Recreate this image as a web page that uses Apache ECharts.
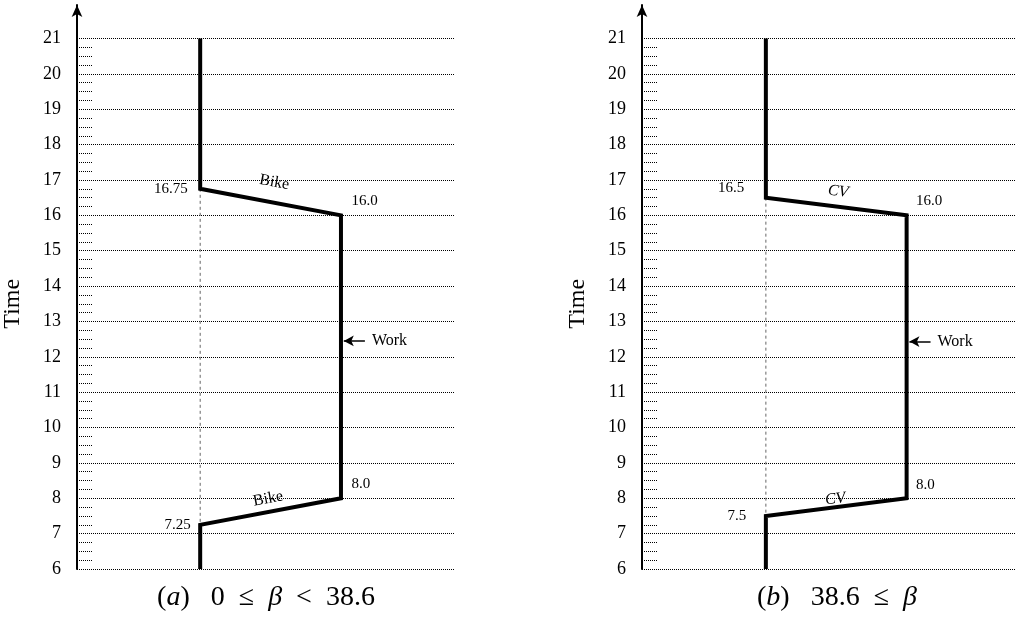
<!DOCTYPE html>
<html><head><meta charset="utf-8">
<script src="https://cdn.jsdelivr.net/npm/echarts@6/dist/echarts.min.js"></script>
<style>html,body{margin:0;padding:0;background:#fff}#c{width:1016px;height:617px}</style>
</head><body><div id="c"></div>
<script>
// ---- data ----
const places = ['Home', 'Work'];             // x positions: 0 = Home, 1 = Work
const tripAPlace = [0, 0, 1, 1, 0, 0];
const tripATime  = [21, 16.75, 16.0, 8.0, 7.25, 6];
const tripBPlace = [0, 0, 1, 1, 0, 0];
const tripBTime  = [21, 16.5, 16.0, 8.0, 7.5, 6];
const modeA = ['Bike', 'Bike'];              // evening trip, morning trip
const modeB = ['CV', 'CV'];
const workMarkTime = [12.45, 12.43];
const yTicks = [6, 21, 1];                   // min, max, step
const captionA = '({it|a})\u2002 0\u2002≤\u2002{it|β}\u2002<\u200238.6';
const captionB = '({it|b})\u2002 38.6\u2002≤\u2002{it|β}';

const serif = 'Liberation Serif';
const fmt = v => Number.isInteger(v) ? v.toFixed(1) : String(v);

const chart = echarts.init(document.getElementById('c'), null, {renderer: 'canvas'});

const panels = [
  {grid: {left: 77, right: 561}, xr: [-0.875, 1.81], place: tripAPlace, time: tripATime, mode: modeA, work: workMarkTime[0],
   caption: captionA, capPad: [0, 0, 0, 0],
   corner: [
     {position: 'left', distance: 12, verticalAlign: 'middle'},
     {position: [11, -14], align: 'left', verticalAlign: 'middle'},
     {position: [11, -14], align: 'left', verticalAlign: 'middle'},
     {position: 'left', distance: 9, verticalAlign: 'middle'}
   ],
   segDist: [12, 5], segItalic: false},
  {grid: {left: 642, right: 1}, xr: [-0.88, 1.77], place: tripBPlace, time: tripBTime, mode: modeB, work: workMarkTime[1],
   caption: captionB, capPad: [0, 0, 0, 17],
   corner: [
     {position: [-21, -9], align: 'right', verticalAlign: 'middle'},
     {position: [10, -14], align: 'left', verticalAlign: 'middle'},
     {position: [10, -13], align: 'left', verticalAlign: 'middle'},
     {position: 'left', distance: 19, verticalAlign: 'middle'}
   ],
   segDist: [7, 0], segItalic: true}
];

const grid = [], xAxis = [], yAxis = [], series = [];
panels.forEach((p, i) => {
  const g = grid.length;
  grid.push({left: p.grid.left, right: p.grid.right, top: 38.5, bottom: 48});
  grid.push({left: p.grid.left, right: p.grid.right, top: 5, bottom: 48});
  xAxis.push({gridIndex: g, type: 'value', min: p.xr[0], max: p.xr[1],
    axisLine: {show: false, onZero: false}, axisTick: {show: false}, axisLabel: {show: false}, splitLine: {show: false},
    name: p.caption, nameLocation: 'middle', nameGap: 15,
    nameTextStyle: {fontFamily: serif, fontSize: 28, color: '#000', verticalAlign: 'top', padding: p.capPad,
      rich: {it: {fontFamily: serif, fontStyle: 'italic', fontSize: 28, color: '#000'}}}});
  xAxis.push({gridIndex: g + 1, type: 'value', min: 0, max: 1, show: false});
  yAxis.push({gridIndex: g, type: 'value', min: yTicks[0], max: yTicks[1], interval: yTicks[2],
    axisLine: {show: false, onZero: false},
    axisTick: {show: false, inside: true},
    minorTick: {show: true, splitNumber: 4, length: 15, lineStyle: {color: '#000', type: 'dotted', width: 1}},
    axisLabel: {margin: 16, fontSize: 18, color: '#000', fontFamily: serif},
    splitLine: {show: true, lineStyle: {color: '#000', type: 'dotted', width: 1}},
    name: 'Time', nameLocation: 'middle', nameGap: 52,
    nameTextStyle: {fontFamily: serif, fontSize: 24, color: '#000'}});
  yAxis.push({gridIndex: g + 1, type: 'value', min: 0, max: 1,
    axisLine: {show: true, onZero: false, symbol: ['none', 'arrow'], symbolSize: [8, 12], lineStyle: {color: '#000', width: 2}},
    axisTick: {show: false}, axisLabel: {show: false}, splitLine: {show: false}});

  const pts = p.place.map((x, k) => [x, p.time[k]]);
  const segLabel = (txt, d) => ({show: true, position: 'middle', formatter: txt, distance: d,
    fontFamily: serif, fontSize: 16, fontStyle: p.segItalic ? 'italic' : 'normal', color: '#000'});
  // dashed guide at home between departure and return
  series.push({type: 'line', xAxisIndex: g, yAxisIndex: g, z: 2, symbol: 'none', silent: true, animation: false,
    data: [[p.place[1], p.time[1]], [p.place[4], p.time[4]]],
    lineStyle: {color: '#666', width: 1, type: [3, 3]}});
  // main trajectory
  series.push({type: 'line', xAxisIndex: g, yAxisIndex: g, z: 3, symbol: 'none', silent: true, animation: false,
    data: pts, lineStyle: {color: '#000', width: 4, join: 'miter', cap: 'butt'},
    markLine: {silent: true, animation: false, symbol: ['none', 'none'],
      data: [
        [{coord: pts[1], lineStyle: {color: 'transparent', width: 0}, label: segLabel(p.mode[0], p.segDist[0])},
         {coord: pts[2]}],
        [{coord: pts[4], lineStyle: {color: 'transparent', width: 0}, label: segLabel(p.mode[1], p.segDist[1])},
         {coord: pts[3]}],
        [{coord: [p.place[2] + 0.17, p.work], symbol: 'none', lineStyle: {color: '#000', width: 1.5, type: 'solid'},
           label: {show: true, position: 'start', formatter: places[1], distance: 7,
             fontFamily: serif, fontSize: 16, color: '#000'}},
         {coord: [p.place[2] + 0.02, p.work], symbol: 'arrow', symbolSize: [8, 10]}]
      ]}});
  // corner value labels
  series.push({type: 'scatter', xAxisIndex: g, yAxisIndex: g, z: 4, silent: true, animation: false,
    symbolSize: 1, itemStyle: {color: 'transparent', opacity: 1},
    data: [1, 2, 3, 4].map((k, j) => ({value: pts[k],
      label: Object.assign({show: true, formatter: fmt(p.time[k]), fontFamily: serif, fontSize: 15, color: '#000', opacity: 1}, p.corner[j])}))});
});

chart.setOption({backgroundColor: '#fff', animation: false, grid, xAxis, yAxis, series});
</script>
</body></html>
